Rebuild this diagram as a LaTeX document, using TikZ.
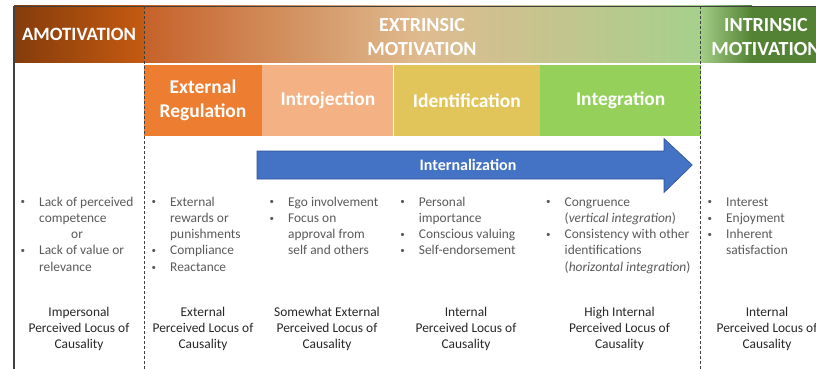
\documentclass[tikz,border=0pt]{standalone}
\usepackage{fontspec}
\setmainfont{Carlito}
\usetikzlibrary{positioning}
\definecolor{AmoDark}{HTML}{843C0C}
\definecolor{AmoOrange}{HTML}{C55A11}
\definecolor{ExtOrange}{HTML}{C6622A}
\definecolor{ExtTan}{HTML}{DFBB90}
\definecolor{ExtGreen}{HTML}{A6D08C}
\definecolor{IntrLight}{HTML}{A2CE86}
\definecolor{IntrDark}{HTML}{548235}
\definecolor{ExtRegOrange}{HTML}{ED7D31}
\definecolor{IntroPeach}{HTML}{F4B183}
\definecolor{IdentYellow}{HTML}{E2C55A}
\definecolor{IntegGreen}{HTML}{94D05A}
\definecolor{ArrowBlue}{HTML}{4472C4}
\definecolor{ArrowEdge}{HTML}{2F528F}
\definecolor{BulletGray}{HTML}{595959}
\definecolor{LocusBlack}{HTML}{262626}
\definecolor{FrameGray}{HTML}{404040}
\newcommand{\bulpt}{\makebox[18.5pt][l]{\raisebox{1.2pt}{\fontsize{9}{9}\selectfont\textbullet}}}
\newcommand{\bulgap}{\hspace*{18.5pt}}

\begin{document}
\begin{tikzpicture}[
          x=1pt, y=-1pt,
          header/.style={minimum height=57pt, inner sep=0pt, font=\fontsize{20}{24.5}\selectfont\bfseries, text=white, align=center},
          subbox/.style={minimum height=71pt, inner sep=0pt, font=\fontsize{19.5}{23.5}\selectfont\bfseries, text=white, align=center},
          bullets/.style={anchor=base west, inner sep=0pt, align=left, text=BulletGray, font=\fontsize{13.4}{16.3}\selectfont},
          locus/.style={anchor=base, inner sep=0pt, align=center, text=LocusBlack, font=\fontsize{13.4}{16.3}\selectfont},
          sepline/.style={densely dashed, line width=0.5pt, draw=FrameGray}
        ]
          \useasboundingbox (0,0) rectangle (816,369);

          % Row 1: headers
          \node[header, left color=AmoDark, right color=AmoOrange, minimum width=130pt, font=\fontsize{18.8}{23}\selectfont\bfseries] (amohead) at (79,34.5) {AMOTIVATION};
          \node[header, left color=ExtOrange, right color=ExtGreen, middle color=ExtTan, minimum width=556pt] (exthead) at (422,34.5) {};
          \node[header] (extlabel) at (422,37) {EXTRINSIC\\MOTIVATION};
          \fill[IntrDark] (700,6) rectangle (840,63);
          \shade[left color=IntrLight, right color=IntrDark] (700,6) rectangle (752,63);
          \node[header] (inthead) at (766,37) {INTRINSIC\\MOTIVATION};

          % Row 2: regulation styles
          \node[subbox, fill=ExtRegOrange, minimum width=118pt] (extreg) at (203,100.5) {External\\Regulation};
          \node[subbox, fill=IntroPeach, minimum width=131pt, right=0pt of extreg] (introj) {Introjection};
          \node[subbox, fill=IdentYellow, minimum width=146pt, right=0pt of introj] (ident) {Identification};
          \node[subbox, fill=IntegGreen, minimum width=161pt, right=0pt of ident] (integ) {Integration};

          % Frame and column separators
          \draw[line width=0.8pt, FrameGray] (14,6) -- (816,6);
          \draw[line width=1.2pt, FrameGray] (14,6) -- (14,369);
          \draw[sepline] (144,6) -- (144,369);
          \draw[sepline] (700,6) -- (700,369);

          % Internalization arrow
          \filldraw[fill=ArrowBlue, draw=ArrowEdge, line width=0.6pt] (257,151) -- (664,151) -- (664,138.5) -- (692.3,165) -- (664,192.5) -- (664,179) -- (257,179) -- cycle;
          \node[font=\fontsize{16}{19}\selectfont\bfseries, text=white] (internal) at (468,165) {Internalization};

          % Row 3: bullet lists (anchored at the baseline of the last line)
          \node[bullets] (amolist) at (20.5,271.2) {\bulpt Lack of perceived\\ \bulgap competence\\ \bulgap\hspace*{32pt}or\\ \bulpt Lack of value or\\ \bulgap relevance};
          \node[bullets] (extlist) at (151.5,271.2) {\bulpt External\\ \bulgap rewards or\\ \bulgap punishments\\ \bulpt Compliance\\ \bulpt Reactance};
          \node[bullets] (introlist) at (269.5,254.9) {\bulpt Ego involvement\\ \bulpt Focus on\\ \bulgap approval from\\ \bulgap self and others};
          \node[bullets] (identlist) at (400.2,254.9) {\bulpt Personal\\ \bulgap importance\\ \bulpt Conscious valuing\\ \bulpt Self-endorsement};
          \node[bullets] (integlist) at (546,271.2) {\bulpt Congruence\\ \bulgap (\textit{vertical integration})\\ \bulpt Consistency with other\\ \bulgap identifications\\ \bulgap (\textit{horizontal integration})};
          \node[bullets] (intlist) at (707.5,254.9) {\bulpt Interest\\ \bulpt Enjoyment\\ \bulpt Inherent\\ \bulgap satisfaction};

          % Row 4: locus of causality
          \node[locus] (amoloc) at (79,348.6) {Impersonal\\Perceived Locus of\\Causality};
          \node[locus] (extloc) at (203,348.6) {External\\Perceived Locus of\\Causality};
          \node[locus] (introloc) at (327,348.6) {Somewhat External\\Perceived Locus of\\Causality};
          \node[locus] (identloc) at (466,348.6) {Internal\\Perceived Locus of\\Causality};
          \node[locus] (integloc) at (619.5,348.6) {High Internal\\Perceived Locus of\\Causality};
          \node[locus] (intloc) at (767,348.6) {Internal\\Perceived Locus of\\Causality};

        \end{tikzpicture}
\end{document}
